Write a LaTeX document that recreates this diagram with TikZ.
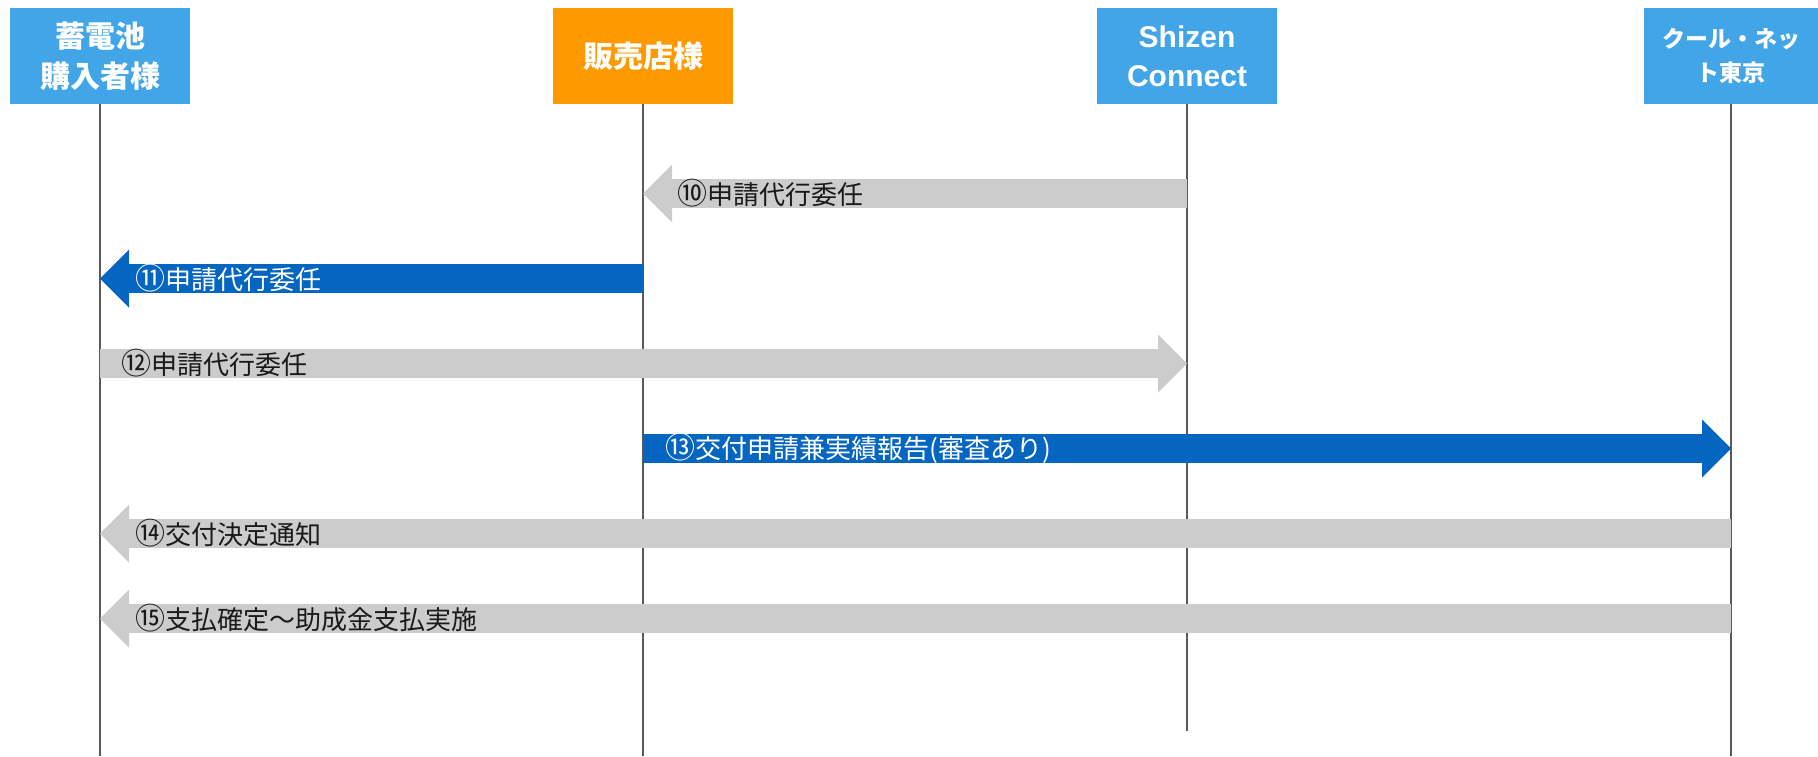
\documentclass[tikz,border=0pt]{standalone}
\usepackage{fontspec}
\setmainfont{Noto Sans CJK JP}
\newfontfamily\latinfont{Liberation Sans}
\usetikzlibrary{arrows.meta}
\definecolor{headblue}{HTML}{41A5E8}
\definecolor{shoporange}{HTML}{FF9900}
\definecolor{msgblue}{HTML}{0566C1}
\definecolor{msggray}{HTML}{CCCCCC}
\definecolor{lifegray}{HTML}{5A5A5A}
\newcommand\cnum[1]{{\fontsize{30}{30}\selectfont#1}}
\begin{document}
\begin{tikzpicture}[x=1pt,y=-1pt,
            head/.style={fill=headblue,text=white,minimum width=180,minimum height=96,inner sep=0pt,align=center,font=\fontsize{30}{40}\selectfont\bfseries},
            lifeline/.style={draw=lifegray,line width=2},
            msg/.style={line width=29,-{Triangle[width=58pt,length=29pt,line width=0pt]}},
            graymsg/.style={msg,draw=msggray},
            bluemsg/.style={msg,draw=msgblue},
            lbl/.style={inner sep=0pt,anchor=west,font=\fontsize{26}{30}\selectfont,text=black!90}]
            \useasboundingbox (0,0) rectangle (1818,756);
            \node[head] (buyer) at (100,56) {蓄電池\\購入者様};
            \node[head,fill=shoporange] (shop) at (643,56) {販売店様};
            \node[head,font=\latinfont\fontsize{30}{39}\selectfont\bfseries] (shizen) at (1187,56) {Shizen\\Connect};
            \node[head,minimum width=174,font=\fontsize{23}{34}\selectfont\bfseries] (kuru) at (1731,56) {クール・ネッ\\ト東京};
            \coordinate (bottom) at (0,756);
            \coordinate (shizenend) at (0,731);
            \draw[lifeline] (buyer.south) -- (buyer.south |- bottom);
            \draw[lifeline] (shop.south) -- (shop.south |- bottom);
            \draw[lifeline] (shizen.south) -- (shizen.south |- shizenend);
            \draw[lifeline] (kuru.south) -- (kuru.south |- bottom);
            \foreach \n [count=\i] in {10,...,15}
                \coordinate (r\n) at (0,{108.5+85*\i});
            \draw[graymsg] (shizen |- r10) -- (shop |- r10) node[lbl,xshift=20] (m10) {\cnum{⑩}申請代行委任};
            \draw[bluemsg] (shop |- r11) -- (buyer |- r11) node[lbl,xshift=21,text=white] (m11) {\cnum{⑪}申請代行委任};
            \draw[graymsg] (buyer |- r12) node[lbl,xshift=7] (m12) {\cnum{⑫}申請代行委任} -- (shizen |- r12);
            \draw[bluemsg] (shop |- r13) node[lbl,xshift=8,text=white] (m13) {\cnum{⑬}交付申請兼実績報告(審査あり)} -- (kuru |- r13);
            \draw[graymsg] (kuru |- r14) -- (buyer |- r14) node[lbl,xshift=21] (m14) {\cnum{⑭}交付決定通知};
            \draw[graymsg] (kuru |- r15) -- (buyer |- r15) node[lbl,xshift=21] (m15) {\cnum{⑮}支払確定～助成金支払実施};
        \end{tikzpicture}
\end{document}
